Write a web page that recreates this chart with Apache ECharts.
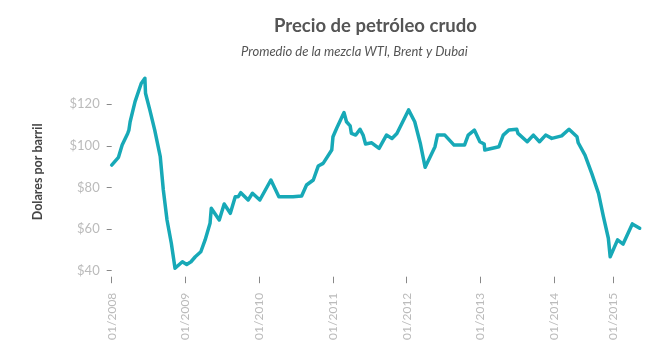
<!DOCTYPE html>
<html>
<head>
<meta charset="utf-8">
<script src="https://cdn.jsdelivr.net/npm/echarts@6/dist/echarts.min.js"></script>
<style>html,body{margin:0;padding:0;background:#fff}#c{width:670px;height:357px}</style>
</head>
<body>
<div id="c"></div>
<script>
// months elapsed since 01/2008 (as positioned on the original chart's axis)
const months = [0,1.1,1.7,2.6,2.8,3.0,3.8,4.8,5.4,5.5,6.2,7.0,7.9,8.4,9.0,9.7,10.3,11.5,12.2,12.9,13.6,14.5,15.2,16.0,16.2,17.5,18.3,19.3,20.1,20.6,21.0,22.2,22.9,24.1,25.9,27.2,29.5,30.9,31.7,32.8,33.6,34.4,35.8,36.0,36.6,37.8,38.2,38.8,39.0,39.7,40.4,40.9,41.3,42.3,43.5,44.7,45.6,46.4,48.3,49.3,50.2,51.0,52.6,53.0,54.2,55.7,57.4,58.0,59.0,59.9,60.6,60.7,63.0,63.7,64.6,65.9,66.1,67.6,68.6,69.6,70.6,71.6,73.2,74.4,75.7,75.9,77.0,78.1,79.2,80.0,80.8,81.1,82.3,83.2,84.7,85.9];
// price, US$ per barrel
const prices = [90.8,94.5,100.4,106,107.6,111.6,121.3,130,132.5,125.3,117.3,107.6,94.8,78.8,64.4,53.2,41.2,44.3,43,44.3,46.7,49.1,54.8,62.8,70,64.4,72.1,67.6,75.6,75.6,77.5,74,77.2,74,83.6,75.6,75.5,75.9,81.2,83.6,90.3,91.6,98,104.4,108.5,116,111.6,109.6,106,105.2,108,105.2,100.9,101.5,98.8,105.2,103.6,106,117.3,111.6,101.3,89.7,99.6,105.2,105.2,100.4,100.4,105.2,107.6,102,100.9,98,99.6,105.2,107.6,108,106,102,105.2,102,105.2,103.6,104.8,108,104.4,101.5,95.6,86.8,77.2,66,55.6,46.7,54.8,52.8,62.5,60.4];
const xTickPos = [0,12,24,36,48,60,72,81.6];
const xTickLabels = ['01/2008','01/2009','01/2010','01/2011','01/2012','01/2013','01/2014','01/2015'];
const yTicks = [40,60,80,100,120];

const chart = echarts.init(document.getElementById('c'), null, {renderer:'canvas'});
const FONT = 'Lato';
chart.setOption({
  animation:false,
  backgroundColor:'#fff',
  title:[
    {text:'Precio de petróleo crudo', left:269, top:12, textStyle:{fontFamily:FONT, fontWeight:'bold', fontSize:18.5, color:'#555'}},
    {text:'Promedio de la mezcla WTI, Brent y Dubai', left:236, top:40, textStyle:{fontFamily:FONT, fontStyle:'italic', fontWeight:'normal', fontSize:13, color:'#555'}}
  ],
  grid:{left:111.7, right:29.7, top:73.1, bottom:86.3, containLabel:false},
  xAxis:{
    type:'value', min:0, max:86, offset:6,
    axisLine:{show:false},
    splitLine:{show:false},
    axisTick:{show:true, length:6.5, customValues:xTickPos, lineStyle:{color:'#888', width:1}},
    axisLabel:{show:true, rotate:90, margin:16, customValues:xTickPos, fontFamily:FONT, fontSize:12, color:'#bbb',
      formatter:function(v){const i=xTickPos.indexOf(v);return i>=0?xTickLabels[i]:'';}}
  },
  yAxis:{
    type:'value', min:40, max:135,
    name:'Dolares por barril', nameLocation:'middle', nameGap:67, nameRotate:90,
    nameTextStyle:{fontFamily:FONT, fontWeight:'bold', fontSize:12.5, color:'#444'},
    axisLine:{show:false},
    splitLine:{show:false},
    axisTick:{show:true, length:5, customValues:yTicks, lineStyle:{color:'#888', width:1}},
    axisLabel:{show:true, margin:12, customValues:yTicks, fontFamily:FONT, fontSize:13, color:'#bbb', formatter:function(v){return '$'+v;}}
  },
  series:[{
    type:'line', showSymbol:false, smooth:false,
    data:months.map(function(m,i){return [m, prices[i]];}),
    lineStyle:{color:'#17a9b7', width:3.5, join:'round', cap:'round'},
    itemStyle:{color:'#17a9b7'}
  }]
});
</script>
</body>
</html>
